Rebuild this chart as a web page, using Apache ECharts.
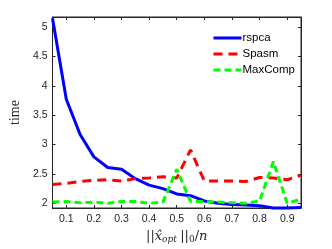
<!DOCTYPE html>
<html><head><meta charset="utf-8">
<script src="https://cdn.jsdelivr.net/npm/echarts@6/dist/echarts.min.js"></script>
<style>html,body{margin:0;padding:0;background:#fff}#c{width:332px;height:249px}</style>
</head><body><div id="c"></div>
<script>
const xValues = [0.05,0.1,0.15,0.2,0.25,0.3,0.35,0.4,0.45,0.5,0.55,0.6,0.65,0.7,0.75,0.8,0.85,0.9,0.95];
const rspca = [5.15,3.77,3.17,2.79,2.61,2.58,2.42,2.31,2.25,2.16,2.13,2.04,2.0,1.98,1.97,1.96,1.92,1.92,1.93];
const spasm = [2.32,2.34,2.37,2.39,2.40,2.38,2.42,2.43,2.45,2.43,2.91,2.38,2.38,2.38,2.37,2.44,2.43,2.40,2.48];
const maxcomp = [2.02,2.03,2.01,2.02,2.0,2.03,2.03,2.0,2.02,2.58,2.03,2.03,2.02,2.01,2.0,2.04,2.71,2.0,2.07];
const xTicks = [0.1,0.2,0.3,0.4,0.5,0.6,0.7,0.8,0.9];
const yTicks = [2,2.5,3,3.5,4,4.5,5];

const pair = a => xValues.map((x,i)=>[x,a[i]]);
const axCol = '#262626';
const baseX = () => ({type:'value',min:0.05,max:0.95,
  axisLine:{show:true,onZero:false,lineStyle:{color:axCol,width:1}},
  axisTick:{show:true,inside:true,length:3,customValues:xTicks,lineStyle:{color:axCol}},
  splitLine:{show:false}});
const baseY = () => ({type:'value',min:1.92,max:5.17,
  axisLine:{show:true,onZero:false,lineStyle:{color:axCol,width:1}},
  axisTick:{show:true,inside:true,length:3,customValues:yTicks,lineStyle:{color:axCol}},
  splitLine:{show:false}});
const chart = echarts.init(document.getElementById('c'));
chart.setOption({
  animation:false,
  grid:{left:43,right:31,top:17,bottom:35,show:true,borderColor:axCol,borderWidth:1,backgroundColor:'transparent'},
  xAxis:[
    Object.assign(baseX(),{position:'bottom',
      axisLabel:{show:true,customValues:xTicks,color:axCol,fontFamily:'Liberation Sans',fontSize:10.5,margin:6,formatter:v=>String(Math.round(v*10)/10)},
      name:'{n|||}{i|x̂}{s|opt} {n|||}{s0|0}{n|/}{i|n}',nameLocation:'middle',nameGap:21,
      nameTextStyle:{rich:{
        n:{fontFamily:'DejaVu Serif',fontSize:13,color:axCol},
        i:{fontFamily:'DejaVu Serif',fontStyle:'italic',fontSize:13,color:axCol},
        s:{fontFamily:'DejaVu Serif',fontStyle:'italic',fontSize:9,color:axCol,verticalAlign:'bottom',padding:[6,0,0,0]},
        s0:{fontFamily:'DejaVu Serif',fontSize:9,color:axCol,verticalAlign:'bottom',padding:[6,0,0,0]}
      }}}),
    Object.assign(baseX(),{position:'top',axisLabel:{show:false}})
  ],
  yAxis:[
    Object.assign(baseY(),{position:'left',
      axisLabel:{show:true,customValues:yTicks,color:axCol,fontFamily:'Liberation Sans',fontSize:10.5,margin:5,formatter:v=>String(v)},
      name:'time',nameLocation:'middle',nameGap:24,
      nameTextStyle:{fontFamily:'Liberation Serif',fontSize:14,color:axCol}}),
    Object.assign(baseY(),{position:'right',axisLabel:{show:false}})
  ],
  legend:{show:true,left:207,top:27,orient:'vertical',itemGap:4,itemWidth:28,itemHeight:14,
    itemStyle:{opacity:0},lineStyle:{width:3},
    textStyle:{fontFamily:'Liberation Sans',fontSize:11.5,color:'#000',padding:[0,0,0,-4]},
    data:['rspca','Spasm','MaxComp']},
  series:[
    {name:'rspca',type:'line',data:pair(rspca),showSymbol:false,symbol:'none',clip:false,
      lineStyle:{color:'#0000ff',width:3},itemStyle:{color:'#0000ff'}},
    {name:'Spasm',type:'line',data:pair(spasm),showSymbol:false,symbol:'none',
      lineStyle:{color:'#ff0000',width:3,type:[9,6]},itemStyle:{color:'#ff0000'}},
    {name:'MaxComp',type:'line',data:pair(maxcomp),showSymbol:false,symbol:'none',
      lineStyle:{color:'#00ff00',width:3,type:[7,4]},itemStyle:{color:'#00ff00'}}
  ]
});
</script></body></html>
